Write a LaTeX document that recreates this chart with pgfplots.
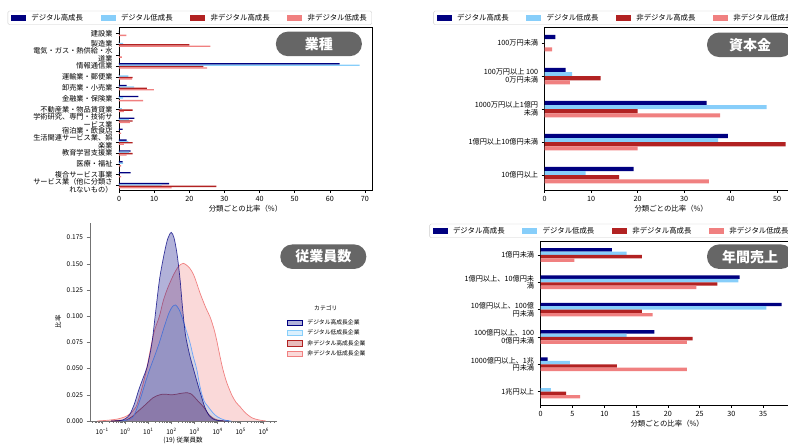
\documentclass[border=0pt]{standalone}
\usepackage{fontspec}
\setmainfont{Noto Sans CJK JP}
\usepackage{pgfplots}
\pgfplotsset{compat=1.18}

\definecolor{cNavy}{RGB}{0,0,128}
\definecolor{cSky}{RGB}{135,206,250}
\definecolor{cFire}{RGB}{178,34,34}
\definecolor{cCoral}{RGB}{240,128,128}
\definecolor{badgegray}{RGB}{102,102,102}

\newcommand{\decade}[1]{10\raisebox{0.8ex}{\fontsize{4.6}{5}\selectfont #1}}

\tikzset{
  badge/.style={fill=badgegray, text=white, rounded corners=12pt, minimum width=86pt,
    minimum height=24.5pt, inner sep=0pt, font=\fontsize{14}{14}\selectfont\bfseries},
}

\pgfplotsset{
  barpanel/.style={
    scale only axis, width=253pt,
    xbar, bar width=0.125, y dir=reverse, xmin=0,
    axis line style={black, line width=0.6pt},
    tick align=outside, tick pos=left, major tick length=3pt,
    tick style={black, line width=0.6pt},
    /pgf/number format/assume math mode=true,
    ticklabel style={font=\fontsize{7.2}{8}\selectfont},
    yticklabel style={align=right, font=\fontsize{7.2}{7.8}\selectfont},
    xlabel={分類ごとの比率（\%）},
    xlabel style={font=\fontsize{7.4}{8}\selectfont, at={(axis description cs:0.5,0)}, anchor=center, yshift=-19pt},
    legend columns=4,
    legend image code/.code={\fill[##1, sharp corners] (0pt,-2.8pt) rectangle (15pt,2.8pt);},
    legend style={font=\fontsize{7.4}{8}\selectfont, draw=black!20, rounded corners=1.5pt,
      inner xsep=3pt, inner ysep=1pt, at={(1,1)}, anchor=south east,
      /tikz/every even column/.append style={column sep=15.5pt},
      /tikz/every odd column/.append style={column sep=3.5pt}},
  },
  s1/.style={fill=cNavy, draw=none, bar shift=-0.1875},
  s2/.style={fill=cSky, draw=none, bar shift=-0.0625},
  s3/.style={fill=cFire, draw=none, bar shift=0.0625},
  s4/.style={fill=cCoral, draw=none, bar shift=0.1875},
}

\begin{document}
\begin{tikzpicture}[x=1pt,y=1pt]
\useasboundingbox (0,0) rectangle (788,446);
\clip (0,0) rectangle (788,446);

% ---------- 業種 ----------
\begin{axis}[barpanel,
  at={(119pt,256pt)}, anchor=south west, height=163pt,
  xmax=72, ymin=-0.58, ymax=14.4,
  xtick={0,10,...,70}, ytick={0,...,14},
  yticklabels={建設業, 製造業, {電気・ガス・熱供給・水\\道業}, 情報通信業, 運輸業・郵便業,
    卸売業・小売業, 金融業・保険業, 不動産業・物品賃貸業, {学術研究、専門・技術サ\\ービス業},
    宿泊業・飲食店, {生活関連サービス業、娯\\楽業}, 教育学習支援業, 医療・福祉,
    複合サービス事業, {サービス業（他に分類さ\\れないもの）}},
  legend style={yshift=2pt},
]
\addplot[s1] coordinates {(0,0) (0,1) (0,2) (62.8,3) (0,4) (2.2,5) (5.5,6) (0,7) (4.4,8) (1.0,9) (2.2,10) (3.3,11) (1.0,12) (3.3,13) (14.3,14)};
\addlegendentry{デジタル高成長}
\addplot[s2] coordinates {(0,0) (1.2,1) (0,2) (68.5,3) (2.7,4) (4.3,5) (1.2,6) (0.8,7) (2.8,8) (0,9) (2.7,10) (2.8,11) (1.2,12) (0,13) (12.1,14)};
\addlegendentry{デジタル低成長}
\addplot[s3] coordinates {(0,0) (20.0,1) (0,2) (24.0,3) (3.9,4) (7.9,5) (0,6) (3.9,7) (3.9,8) (0,9) (3.9,10) (3.9,11) (0,12) (0,13) (27.7,14)};
\addlegendentry{非デジタル高成長}
\addplot[s4] coordinates {(2.1,0) (26.0,1) (0.8,2) (25.1,3) (3.7,4) (9.9,5) (6.9,6) (1.4,7) (3.1,8) (0.6,9) (1.4,10) (2.2,11) (0.6,12) (0.6,13) (15.0,14)};
\addlegendentry{非デジタル低成長}
\end{axis}

% ---------- 資本金 ----------
\begin{axis}[barpanel,
  at={(544.7pt,256pt)}, anchor=south west, height=163pt,
  xmax=54.4, ymin=-0.49, ymax=4.45,
  xtick={0,10,...,50}, ytick={0,...,4},
  yticklabels={100万円未満, {100万円以上 100\\0万円未満}, {1000万円以上1億円\\未満},
    1億円以上10億円未満, 10億円以上},
  legend style={yshift=2pt},
]
\addplot[s1] coordinates {(2.3,0) (4.5,1) (34.8,2) (39.4,3) (19.1,4)};
\addlegendentry{デジタル高成長}
\addplot[s2] coordinates {(0,0) (5.9,1) (47.7,2) (37.3,3) (8.8,4)};
\addlegendentry{デジタル低成長}
\addplot[s3] coordinates {(0,0) (12.0,1) (20.0,2) (51.8,3) (16.0,4)};
\addlegendentry{非デジタル高成長}
\addplot[s4] coordinates {(1.6,0) (5.4,1) (37.7,2) (20.0,3) (35.3,4)};
\addlegendentry{非デジタル低成長}
\end{axis}

% ---------- 年間売上 ----------
\begin{axis}[barpanel,
  at={(540.7pt,41pt)}, anchor=south west, height=164pt,
  xmax=39.8, ymin=-0.51, ymax=5.49,
  xtick={0,5,...,35}, ytick={0,...,5},
  yticklabels={1億円未満, {1億円以上、10億円未\\満}, {10億円以上、100億\\円未満},
    {100億円以上、100\\0億円未満}, {1000億円以上、1兆\\円未満}, 1兆円以上},
  legend style={yshift=3pt},
]
\addplot[s1] coordinates {(11.2,0) (31.3,1) (37.9,2) (17.9,3) (1.1,4) (0,5)};
\addlegendentry{デジタル高成長}
\addplot[s2] coordinates {(13.5,0) (31.1,1) (35.5,2) (13.5,3) (4.6,4) (1.6,5)};
\addlegendentry{デジタル低成長}
\addplot[s3] coordinates {(15.9,0) (27.8,1) (15.9,2) (23.9,3) (12.0,4) (4.0,5)};
\addlegendentry{非デジタル高成長}
\addplot[s4] coordinates {(5.3,0) (24.5,1) (17.6,2) (23.0,3) (23.0,4) (6.2,5)};
\addlegendentry{非デジタル低成長}
\end{axis}

% ---------- 従業員数 (KDE, log10 of headcount) ----------
\begin{axis}[
  at={(90pt,25pt)}, anchor=south west, scale only axis, clip=false,
  width=186.7pt, height=198pt,
  xmin=-1.515, xmax=6.567, ymin=0, ymax=0.189,
  axis x line*=bottom, axis y line*=left,
  axis line style={-, black!55, line width=0.8pt},
  tick align=outside, major tick length=3.5pt, minor tick length=2pt,
  tick style={black!55, line width=0.6pt},
  xtick={-1,0,...,6},
  xticklabels={\decade{−1},\decade{0},\decade{1},\decade{2},\decade{3},\decade{4},\decade{5},\decade{6}},
  minor xtick={-1.398,-1.301,-1.222,-1.155,-1.097,-1.046,
    -0.699,-0.523,-0.398,-0.301,-0.222,-0.155,-0.097,-0.046,
    0.301,0.477,0.602,0.699,0.778,0.845,0.903,0.954,
    1.301,1.477,1.602,1.699,1.778,1.845,1.903,1.954,
    2.301,2.477,2.602,2.699,2.778,2.845,2.903,2.954,
    3.301,3.477,3.602,3.699,3.778,3.845,3.903,3.954,
    4.301,4.477,4.602,4.699,4.778,4.845,4.903,4.954,
    5.301,5.477,5.602,5.699,5.778,5.845,5.903,5.954,
    6.301,6.477},
  ytick={0,0.025,0.05,0.075,0.1,0.125,0.15,0.175},
  yticklabels={0.000,0.025,0.050,0.075,0.100,0.125,0.150,0.175},
  ticklabel style={font=\fontsize{6.5}{7}\selectfont},
  xlabel={(19) 従業員数}, ylabel={比率},
  xlabel style={font=\fontsize{6.5}{7}\selectfont, at={(axis description cs:0.498,0)}, anchor=center, yshift=-19pt},
  ylabel style={font=\fontsize{6.5}{7}\selectfont, at={(axis description cs:-0.171,0.5)}, anchor=center},
  legend image code/.code={\draw[#1] (0pt,-2.6pt) rectangle (14.7pt,2.6pt);},
  legend style={at={(axis description cs:1.055,0.525)}, anchor=north west, draw=none, fill=none,
    font=\fontsize{5.8}{6.4}\selectfont, row sep=0pt, inner sep=0pt,
    /tikz/every odd column/.append style={column sep=3pt}},
  legend cell align=left,
]
\addlegendimage{fill=cNavy, fill opacity=0.3, draw=cNavy, line width=0.6pt}
\addlegendentry{デジタル高成長企業}
\addlegendimage{fill=cSky, fill opacity=0.3, draw=cSky, line width=0.6pt}
\addlegendentry{デジタル低成長企業}
\addlegendimage{fill=cFire, fill opacity=0.3, draw=cFire, line width=0.6pt}
\addlegendentry{非デジタル高成長企業}
\addlegendimage{fill=cCoral, fill opacity=0.3, draw=cCoral, line width=0.6pt}
\addlegendentry{非デジタル低成長企業}

% 非デジタル低成長企業
\addplot[forget plot, smooth, fill=cCoral, fill opacity=0.3, draw=cCoral, line width=0.7pt] coordinates {
 (-1.2,0) (-0.7,0.0008) (-0.3,0.002) (0.0,0.004) (0.22,0.007) (0.48,0.0137) (0.65,0.025)
 (0.8,0.037) (0.94,0.050) (1.16,0.075) (1.3,0.088) (1.49,0.100) (1.66,0.115) (1.85,0.127)
 (2.09,0.139) (2.3,0.147) (2.52,0.1505) (2.8,0.146) (3.0,0.138) (3.25,0.122) (3.5,0.108)
 (3.68,0.0995) (3.85,0.088) (3.97,0.077) (4.1,0.063) (4.23,0.050) (4.4,0.037) (4.62,0.025)
 (4.8,0.018) (4.98,0.0137) (5.2,0.008) (5.5,0.003) (5.8,0.001) (6.1,0)};
% 非デジタル高成長企業
\addplot[forget plot, smooth, fill=cFire, fill opacity=0.3, draw=cFire, line width=0.7pt] coordinates {
 (-0.6,0) (-0.2,0.0004) (0.07,0.001) (0.3,0.004) (0.5,0.008) (0.79,0.0137) (1.0,0.018)
 (1.2,0.022) (1.37,0.024) (1.6,0.0255) (1.8,0.0255) (2.0,0.025) (2.2,0.0255) (2.45,0.0265)
 (2.7,0.027) (2.85,0.026) (3.0,0.023) (3.2,0.018) (3.39,0.0137) (3.6,0.007) (3.8,0.003)
 (4.0,0.001) (4.3,0)};
% デジタル低成長企業
\addplot[forget plot, smooth, fill=cSky, fill opacity=0.3, draw=cSky!80!blue, line width=0.7pt] coordinates {
 (-0.2,0) (0.1,0.001) (0.35,0.004) (0.55,0.014) (0.72,0.025) (0.9,0.038) (1.08,0.050)
 (1.3,0.063) (1.49,0.075) (1.7,0.090) (1.9,0.103) (2.05,0.109) (2.19,0.1107) (2.35,0.106)
 (2.5,0.097) (2.6,0.090) (2.81,0.075) (2.95,0.062) (3.1,0.050) (3.2,0.038) (3.32,0.026)
 (3.45,0.018) (3.6,0.0137) (3.8,0.008) (4.0,0.004) (4.3,0.001) (4.6,0)};
% デジタル高成長企業
\addplot[forget plot, smooth, fill=cNavy, fill opacity=0.3, draw=cNavy, draw opacity=0.75, line width=0.7pt] coordinates {
 (-0.6,0) (-0.2,0.0005) (0.0,0.002) (0.2,0.006) (0.4,0.016) (0.6,0.030) (0.8,0.042)
 (0.95,0.051) (1.1,0.066) (1.2,0.080) (1.33,0.105) (1.5,0.136) (1.7,0.160) (1.85,0.174)
 (2.0,0.180) (2.12,0.175) (2.25,0.160) (2.38,0.136) (2.5,0.106) (2.62,0.082) (2.8,0.063)
 (2.96,0.050) (3.15,0.035) (3.3,0.024) (3.46,0.013) (3.65,0.005) (3.85,0.0015) (4.1,0.0003)
 (4.5,0)};
\node[font=\fontsize{5.8}{6.4}\selectfont] at (axis description cs:1.263,0.571) {カテゴリ};
\end{axis}

% ---------- panel titles ----------
\node[badge] at (318.9,402.1) {業種};
\node[badge] at (750,401.2) {資本金};
\node[badge] at (750,189.3) {年間売上};
\node[badge] at (323.3,189.3) {従業員数};
\end{tikzpicture}
\end{document}
